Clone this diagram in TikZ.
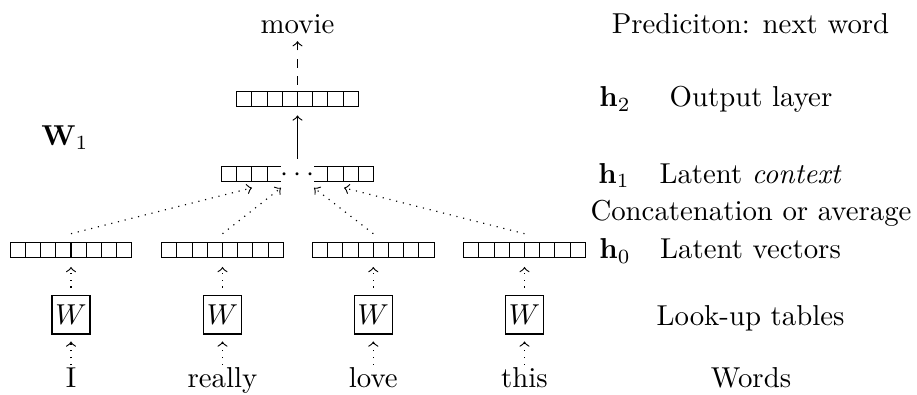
\documentclass[tikz,border=0pt]{standalone}
\usetikzlibrary{calc}
\begin{document}
\begin{tikzpicture}[x=0.3472pt,y=-0.3472pt,
  vec/.style={draw, line width=0.4pt, inner sep=0pt,
    minimum width=#1*5.277pt, minimum height=5.38pt,
    path picture={\foreach \k in {1,...,#1}{
      \draw ([xshift=\k*5.277pt]path picture bounding box.south west) --
            ([xshift=\k*5.277pt]path picture bounding box.north west);}}},
  wbox/.style={draw, inner sep=0pt, minimum width=13.2pt, minimum height=13.5pt},
  txt/.style={inner sep=0pt, anchor=base},
  dotarr/.style={->, dotted},
  dasharr/.style={->, dashed},
  solarr/.style={->}
]
\useasboundingbox (0,0) rectangle (917,394);

% output and hidden layers
\node[txt] (movie) at (297.5,33.3) {movie};
\node[vec=8] (h2) at (297.5,99) {};
\node[vec=10] (h1) at (297.5,174) {};
\node[fill=white, inner sep=0pt, text height=5pt, text depth=0pt,
      minimum width=11pt, minimum height=7pt] (h1dots) at (297.5,174) {$\cdots$};

% latent vectors
\node[vec=8] (v1) at (71,250) {};
\node[vec=8] (v2) at (222.5,250) {};
\node[vec=8] (v3) at (373.3,250) {};
\node[vec=8] (v4) at (524.5,250) {};

% look-up tables
\node[wbox] (W1) at (71,314.5) {$W$};
\node[wbox] (W2) at (222.5,314.5) {$W$};
\node[wbox] (W3) at (373.3,314.5) {$W$};
\node[wbox] (W4) at (524.5,314.5) {$W$};

% words
\node[txt] (w1) at (71,387.5) {I};
\node[txt] (w2) at (222.5,387.5) {really};
\node[txt] (w3) at (373.3,387.5) {love};
\node[txt] (w4) at (524.5,387.5) {this};

% W1 label
\node[txt] (Wlab) at (65,145) {$\mathbf{W}_1$};

% right column
\node[txt] (pred) at (750.5,33.3) {Prediciton: next word};
\node[txt] (lh2) at (615,106.7) {$\mathbf{h}_2$};
\node[txt] (lout) at (751,106.7) {Output layer};
\node[txt] (lh1) at (614,183.3) {$\mathbf{h}_1$};
\node[txt] (lctx) at (750.5,183.3) {Latent \textit{context}};
\node[txt] (lcat) at (751,220) {Concatenation or average};
\node[txt] (lh0) at (615,258.7) {$\mathbf{h}_0$};
\node[txt] (lvec) at (750.5,258.7) {Latent vectors};
\node[txt] (llut) at (750.5,325) {Look-up tables};
\node[txt] (lwrd) at (751,387.5) {Words};

% connectors
\draw[dasharr, shorten <=2pt, shorten >=2.4pt] (h2.north) -- (movie.south);
\draw[solarr, shorten <=2.4pt, shorten >=2.8pt] (h1.north) -- (h2.south);

\coordinate (t1) at ($(h1.south)+(-45.5,5.5)$);
\coordinate (t2) at ($(h1.south)+(-16.5,5.5)$);
\coordinate (t3) at ($(h1.south)+(16.5,5.5)$);
\coordinate (t4) at ($(h1.south)+(46.5,5.5)$);
\draw[dotarr] ($(v1.north)+(0,-8)$) -- (t1);
\draw[dotarr] ($(v2.north)+(0,-8)$) -- (t2);
\draw[dotarr] ($(v3.north)+(0,-8)$) -- (t3);
\draw[dotarr] ($(v4.north)+(0,-8)$) -- (t4);

\foreach \i in {1,...,4}{
  \draw[dotarr, shorten <=2.4pt, shorten >=3pt] (W\i.north) -- (v\i.south);
  \draw[dotarr, shorten <=0.7pt, shorten >=2.4pt] (w\i.north) -- (W\i.south);
}
\end{tikzpicture}
\end{document}
